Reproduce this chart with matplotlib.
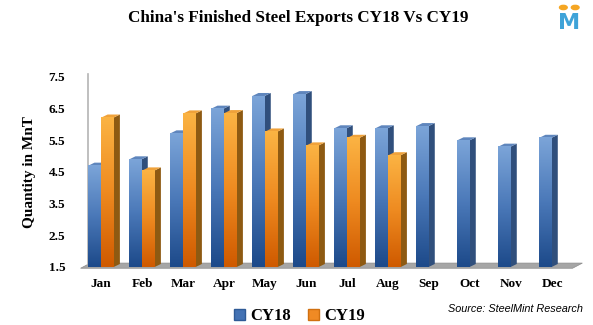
import numpy as np
import matplotlib.pyplot as plt
from matplotlib.patches import Polygon, Patch, Circle
from matplotlib.colors import LinearSegmentedColormap

months = ['Jan', 'Feb', 'Mar', 'Apr', 'May', 'Jun',
          'Jul', 'Aug', 'Sep', 'Oct', 'Nov', 'Dec']
cy18 = [4.70, 4.90, 5.72, 6.50, 6.90, 6.96, 5.88, 5.88, 5.95, 5.50, 5.30, 5.58]
cy19 = [6.22, 4.55, 6.35, 6.36, 5.78, 5.34, 5.58, 5.03]
yticks = [1.5, 2.5, 3.5, 4.5, 5.5, 6.5, 7.5]

serif = 'Liberation Serif'

fig = plt.figure(figsize=(5.93, 3.25), dpi=100)
ax = fig.add_axes([0.1358, 0.1785, 0.8297, 0.5846])

base = 1.5
bw = 0.30
dx, dy = 0.15, 0.095

blue_cm = LinearSegmentedColormap.from_list('b', ['#1d4a8a', '#4a78b8', '#7ba4d8'])
orange_cm = LinearSegmentedColormap.from_list('o', ['#cf5a00', '#ee8a20', '#fbb343'])
grad = np.linspace(0, 1, 64).reshape(-1, 1)

# floor and back wall
ax.add_patch(Polygon([(-0.5, base - 0.04), (11.5, base - 0.04),
                      (11.5 + dx * 1.6, base + dy * 1.3), (-0.5 + dx * 1.6, base + dy * 1.3)],
                     closed=True, facecolor='#a6a6a6', edgecolor='#8c8c8c', lw=0.5,
                     clip_on=False, zorder=1))
ax.plot([-0.5 + dx * 1.2, -0.5 + dx * 1.2], [base + dy, 7.5 + dy], color='#b4b4b4',
        lw=1.2, clip_on=False, zorder=1)


def bar3d(x0, val, cmap, side, top):
    x1 = x0 + bw
    ax.add_patch(Polygon([(x1, base), (x1 + dx, base + dy), (x1 + dx, val + dy), (x1, val)],
                         closed=True, facecolor=side, edgecolor='none', zorder=2, clip_on=False))
    ax.add_patch(Polygon([(x0, val), (x1, val), (x1 + dx, val + dy), (x0 + dx, val + dy)],
                         closed=True, facecolor=top, edgecolor='none', zorder=2, clip_on=False))
    ax.imshow(grad, cmap=cmap, origin='lower', aspect='auto',
              extent=[x0, x1, base, val], zorder=3, interpolation='bilinear')


for i in range(len(months)):
    bar3d(i - 0.31, cy18[i], blue_cm, '#304f7c', '#5f86bd')
    if i < len(cy19):
        bar3d(i + 0.01, cy19[i], orange_cm, '#8e5a12', '#f0a23a')

ax.set_xlim(-0.5, 11.5)
ax.set_ylim(1.5, 7.5)
for s in ax.spines.values():
    s.set_visible(False)
ax.set_xticks(range(len(months)))
ax.set_xticklabels(months, fontfamily=serif, fontweight='bold', fontsize=9.5)
ax.set_yticks(yticks)
ax.set_yticklabels([f'{t:.1f}' for t in yticks], fontfamily=serif, fontweight='bold', fontsize=9.5)
ax.tick_params(length=0)
ax.tick_params(axis='x', pad=8)
ax.tick_params(axis='y', pad=11)
ax.set_ylabel('Quantity in MnT', fontfamily=serif, fontweight='bold', fontsize=11, labelpad=9)

fig.text(0.503, 0.945, "China's Finished Steel Exports CY18 Vs CY19", ha='center', va='center',
         fontfamily=serif, fontweight='bold', fontsize=12.3)
fig.text(0.983, 0.049, 'Source: SteelMint Research', ha='right', va='center',
         fontfamily='Liberation Sans', fontstyle='italic', fontsize=7.8)

handles = [Patch(facecolor='#4472b4', edgecolor='#2f5a96', label='CY18'),
           Patch(facecolor='#f08a24', edgecolor='#d07010', label='CY19')]
fig.legend(handles=handles, loc='center', bbox_to_anchor=(0.505, 0.027), ncol=2, frameon=False,
           prop={'family': serif, 'weight': 'bold', 'size': 12}, handlelength=0.7,
           handleheight=0.7, handletextpad=0.3, columnspacing=1.0)

# logo
fig.text(0.960, 0.928, 'M', ha='center', va='center', fontfamily='DejaVu Sans',
         fontweight='bold', fontsize=16, color='#3fa3d8')
fig.patches.append(Circle((0.950, 0.977), 0.0065, transform=fig.transFigure, color='#f5a623'))
fig.patches.append(Circle((0.970, 0.977), 0.0065, transform=fig.transFigure, color='#f5a623'))

fig.savefig('out.png', dpi=100)
